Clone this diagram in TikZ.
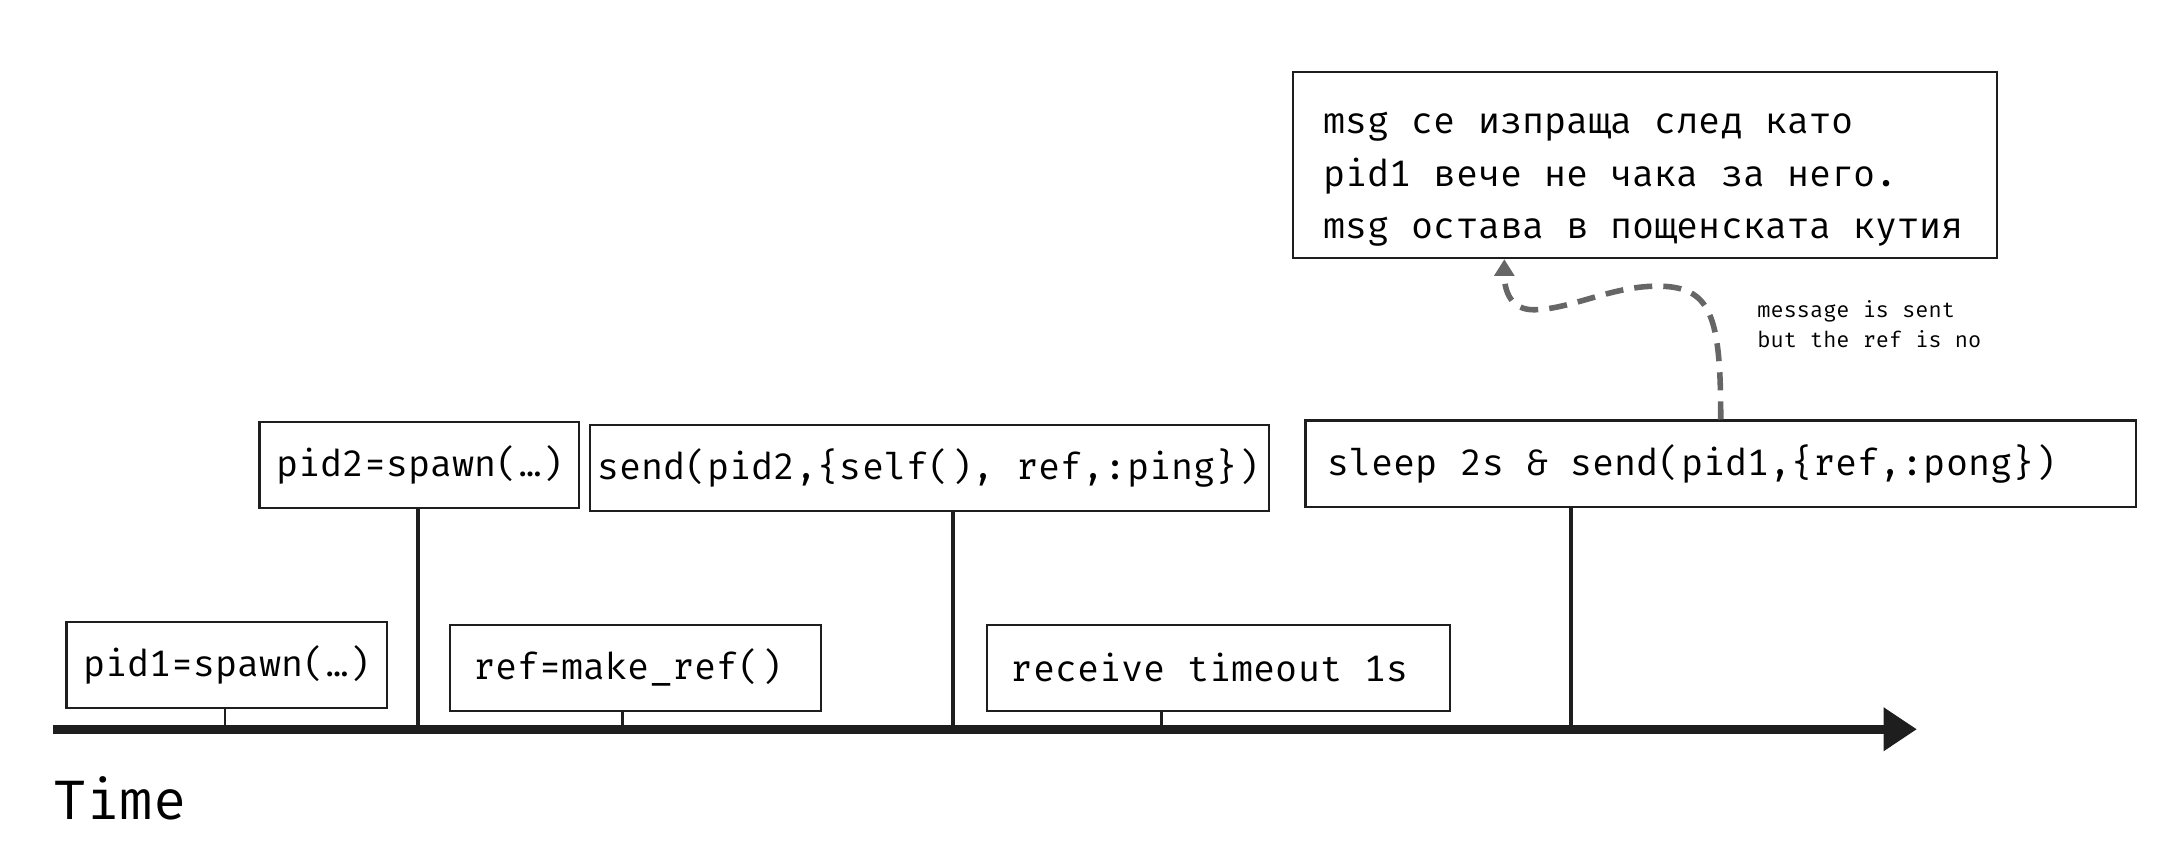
\documentclass[tikz,border=0pt]{standalone}
\usepackage{fontspec}
\setmonofont{Fira Mono}
\usetikzlibrary{arrows.meta,positioning,calc}
\definecolor{InkDark}{HTML}{1E1E1E}
\definecolor{DashGray}{HTML}{666666}
\NewDocumentCommand\codefont{mm}{\ttfamily\fontsize{#1}{#2}\selectfont\spaceskip=0.6em\relax}

\begin{document}
\begin{tikzpicture}[x=1pt,y=-1pt,
  event/.style={draw=InkDark, line width=1.6pt, anchor=north west, minimum height=62pt, align=flush left, inner ysep=0pt, font=\codefont{26.5}{38}},
  tick/.style={InkDark, line width=2pt},
  longtick/.style={InkDark, line width=3.2pt},
  axis/.style={-{Triangle[length=24pt,width=30pt]}, line width=6.5pt, InkDark},
  hint/.style={-{Triangle[length=12pt,width=14pt]}, DashGray, line width=4pt, dash pattern=on 13pt off 8pt}
]
\useasboundingbox (0,0) rectangle (1568,622);

% events on the time line
\node[event, inner xsep=12pt, text width=207pt] (p1) at (47,447) {pid1=spawn(…)};
\node[event, inner xsep=12pt, text width=206pt] (p2) at (186,303) {pid2=spawn(…)};
\node[event, inner xsep=17pt, text width=233pt] (mkref) at (323,449) {ref=make\_ref()};
\node[event, inner xsep=5pt, text width=479pt] (snd) at (424,305) {send(pid2,\{self(), ref,:ping\})};
\node[event, inner xsep=17pt, text width=299pt] (rcv) at (710,449) {receive timeout 1s};
\node[event, inner xsep=16pt, text width=566pt] (slp) at (939,302) {sleep 2s \& send(pid1,\{ref,:pong\})};
\node[event, inner xsep=22pt, text width=463pt, minimum height=134pt] (note) at (930,51)
  {\rule{0pt}{36pt}msg се изпраща след като\\pid1 вече не чака за него.\\msg остава в пощенската кутия};

\node[anchor=north west, inner sep=0pt, align=flush left, font=\codefont{15.8}{22}] (lbl) at (1265,216)
  {message is sent\\but the ref is no};
\node[anchor=west, inner sep=0pt, font=\codefont{40}{48}] (time) at (38,575) {Time};

% time line
\coordinate (tl0) at (38,525);
\coordinate (tl1) at (1380,525);
\coordinate (t1) at (162,525);
\coordinate (t2) at (301,525);
\coordinate (t3) at (448,525);
\coordinate (t4) at (686,525);
\coordinate (t5) at (836,525);
\coordinate (t6) at (1131,525);

\draw[tick] (t1) -- (t1 |- p1.south);
\draw[longtick] (t2) -- (t2 |- p2.south);
\draw[tick] (t3) -- (t3 |- mkref.south);
\draw[longtick] (t4) -- (t4 |- snd.south);
\draw[tick] (t5) -- (t5 |- rcv.south);
\draw[longtick] (t6) -- (t6 |- slp.south);
\draw[axis] (tl0) -- (tl1);

% message goes back to pid1
\coordinate (noteIn) at ($(note.south west)+(153,0)$);
\draw[hint] (slp.north) .. controls ++(0,-75) and (1232,206) .. (1193,206)
  .. controls (1160,206) and (1130,223) .. (1104,223)
  .. controls (1088,223) and (1083,210) .. (noteIn);
\end{tikzpicture}
\end{document}
